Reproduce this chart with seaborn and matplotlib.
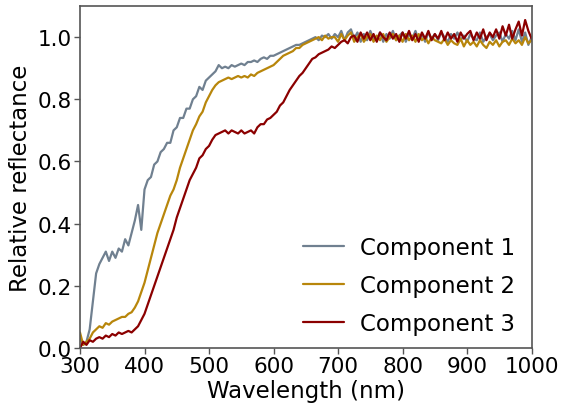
import numpy as np
import pandas as pd
import matplotlib
matplotlib.use("Agg")
import matplotlib.pyplot as plt
import seaborn as sns

wavelength = list(range(300, 1001, 5))

component_1 = [
    0.03, 0.01, 0.02, 0.06, 0.15, 0.24, 0.27, 0.29, 0.31, 0.28, 0.31, 0.29, 0.32, 0.31, 0.35, 0.33, 0.37, 0.41, 0.46, 0.38,
    0.51, 0.54, 0.55, 0.59, 0.60, 0.63, 0.64, 0.66, 0.66, 0.70, 0.71, 0.74, 0.74, 0.77, 0.77, 0.80, 0.81, 0.84, 0.83, 0.86,
    0.87, 0.88, 0.89, 0.91, 0.90, 0.905, 0.90, 0.91, 0.905, 0.91, 0.915, 0.91, 0.92, 0.92, 0.925, 0.92, 0.93, 0.935, 0.93, 0.94,
    0.94, 0.945, 0.95, 0.955, 0.96, 0.965, 0.97, 0.975, 0.975, 0.98, 0.985, 0.99, 0.995, 1.0, 0.99, 1.005, 1.0, 1.01, 0.995, 1.01,
    1.0, 1.02, 0.99, 1.015, 1.025, 0.995, 1.015, 0.985, 1.01, 0.99, 1.02, 0.995, 0.99, 1.015, 0.985, 1.01, 0.995, 1.02, 0.99, 1.005,
    1.015, 0.985, 1.01, 0.995, 1.02, 0.99, 1.01, 0.985, 1.015, 0.995, 1.01, 0.99, 1.015, 1.0, 0.985, 1.01, 0.995, 1.015, 0.99, 1.005,
    0.985, 1.01, 0.995, 0.99, 1.015, 0.985, 1.0, 1.01, 0.99, 1.005, 1.015, 0.985, 1.01, 0.995, 1.02, 0.99, 1.025, 0.985, 1.015, 0.975, 1.0,
]

component_2 = [
    0.05, 0.01, 0.02, 0.03, 0.05, 0.06, 0.07, 0.065, 0.08, 0.075, 0.085, 0.09, 0.095, 0.10, 0.10, 0.11, 0.115, 0.13, 0.15, 0.18,
    0.21, 0.25, 0.29, 0.33, 0.37, 0.40, 0.43, 0.46, 0.49, 0.51, 0.54, 0.58, 0.61, 0.64, 0.67, 0.70, 0.72, 0.745, 0.76, 0.79,
    0.81, 0.83, 0.845, 0.855, 0.86, 0.865, 0.87, 0.865, 0.87, 0.875, 0.87, 0.875, 0.87, 0.88, 0.875, 0.885, 0.89, 0.895, 0.90, 0.905,
    0.91, 0.92, 0.93, 0.94, 0.945, 0.95, 0.955, 0.965, 0.965, 0.975, 0.98, 0.985, 0.99, 0.995, 1.0, 0.99, 1.005, 0.995, 1.0, 1.0,
    0.985, 1.01, 0.99, 1.005, 1.015, 0.985, 1.0, 1.01, 0.985, 1.0, 1.01, 0.985, 1.005, 0.99, 1.01, 0.985, 1.0, 1.01, 0.99, 1.005,
    0.985, 1.01, 0.99, 1.005, 0.985, 1.01, 0.99, 1.0, 0.98, 1.0, 0.99, 0.985, 0.98, 0.995, 0.975, 0.99, 0.98, 0.975, 0.995, 0.97,
    0.99, 0.975, 0.985, 0.97, 0.99, 0.975, 0.965, 0.985, 0.975, 0.99, 0.97, 0.985, 0.99, 0.975, 0.995, 0.98, 0.99, 0.975, 1.0, 0.98, 0.99,
]

component_3 = [
    0.0, 0.02, 0.01, 0.025, 0.02, 0.03, 0.035, 0.03, 0.04, 0.035, 0.045, 0.04, 0.05, 0.045, 0.05, 0.055, 0.05, 0.06, 0.07, 0.09,
    0.11, 0.14, 0.17, 0.20, 0.23, 0.26, 0.29, 0.32, 0.35, 0.38, 0.42, 0.45, 0.48, 0.51, 0.54, 0.56, 0.58, 0.61, 0.62, 0.64,
    0.65, 0.67, 0.685, 0.69, 0.695, 0.70, 0.69, 0.70, 0.695, 0.69, 0.70, 0.69, 0.695, 0.70, 0.69, 0.71, 0.72, 0.72, 0.735, 0.74,
    0.75, 0.76, 0.78, 0.79, 0.81, 0.83, 0.845, 0.86, 0.875, 0.885, 0.90, 0.915, 0.93, 0.935, 0.945, 0.95, 0.955, 0.96, 0.97, 0.965,
    0.975, 0.985, 0.99, 0.98, 1.0, 1.005, 0.985, 1.015, 0.995, 1.015, 0.99, 1.01, 0.985, 1.015, 1.0, 0.99, 1.015, 0.995, 1.01, 0.985,
    1.015, 0.995, 1.02, 0.99, 1.01, 0.985, 1.015, 0.995, 1.02, 0.99, 1.01, 0.995, 1.02, 0.99, 1.015, 0.995, 1.01, 0.985, 1.015, 0.995,
    1.01, 1.02, 0.99, 1.015, 0.995, 1.025, 0.99, 1.015, 1.0, 1.025, 0.995, 1.035, 1.005, 1.04, 0.995, 1.025, 1.05, 1.005, 1.055, 1.02, 0.995,
]

labels = ["Component 1", "Component 2", "Component 3"]
colors = ["#708090", "#B8860B", "#8B0000"]
x_ticks = [300, 400, 500, 600, 700, 800, 900, 1000]
y_ticks = [0.0, 0.2, 0.4, 0.6, 0.8, 1.0]

frames = []
for lab, vals in zip(labels, [component_1, component_2, component_3]):
    assert len(vals) == len(wavelength), (lab, len(vals))
    frames.append(pd.DataFrame({"Wavelength": wavelength, "Reflectance": vals, "Component": lab}))
df = pd.concat(frames, ignore_index=True)

sns.set_style("ticks")
plt.rcParams["font.family"] = ["DejaVu Sans"]
plt.rcParams["text.color"] = "black"
plt.rcParams["axes.labelcolor"] = "black"

fig = plt.figure(figsize=(5.61, 4.14), dpi=100)
ax = fig.add_axes([0.1426, 0.157, 0.805, 0.826])

sns.lineplot(data=df, x="Wavelength", y="Reflectance", hue="Component",
             palette=dict(zip(labels, colors)), linewidth=1.6, ax=ax,
             estimator=None, sort=False)

ax.set_xlim(300, 1000)
ax.set_ylim(0, 1.1)
ax.set_xticks(x_ticks)
ax.set_yticks(y_ticks)
ax.set_xticklabels([str(t) for t in x_ticks], fontsize=15.5)
ax.set_yticklabels([f"{t:.1f}" for t in y_ticks], fontsize=15.5)
ax.set_xlabel("Wavelength (nm)", fontsize=16.5, labelpad=2, color="black")
ax.set_ylabel("Relative reflectance", fontsize=16.5, labelpad=4, color="black")
for s in ax.spines.values():
    s.set_visible(True)
    s.set_color("#555555")
    s.set_linewidth(1.2)
ax.tick_params(axis="both", colors="#555555", labelcolor="black", length=4, width=1, pad=2)

leg = ax.legend(loc="lower right", bbox_to_anchor=(1.0, -0.009), frameon=False,
                fontsize=16.5, labelspacing=0.65, handlelength=1.8,
                handletextpad=0.7, borderaxespad=0.3)
for t in leg.get_texts():
    t.set_color("black")

fig.savefig("out.png", dpi=100)
